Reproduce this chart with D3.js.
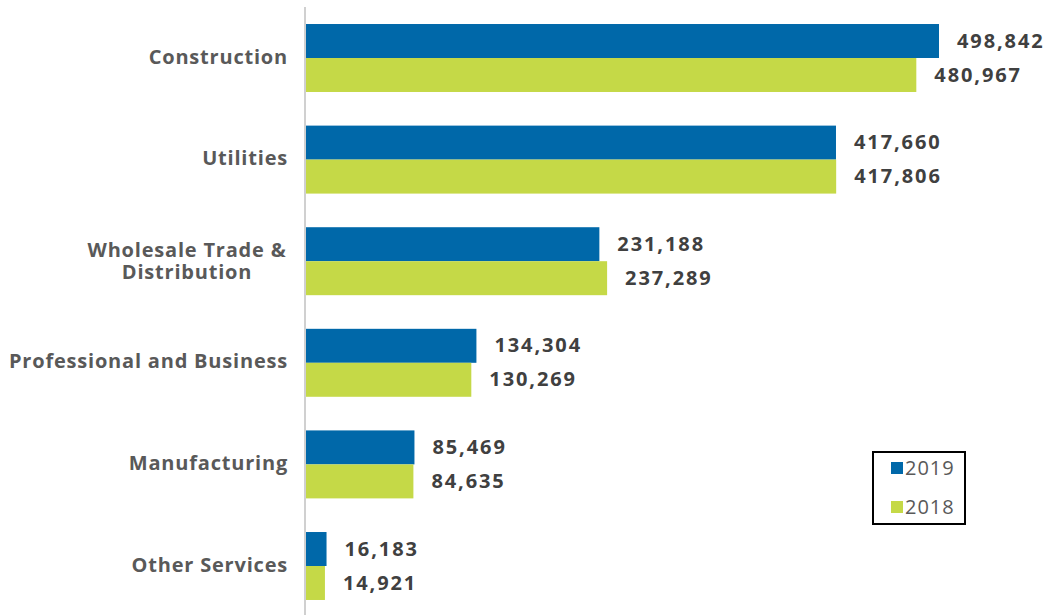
<!DOCTYPE html>
<html><head><meta charset="utf-8">
<script src="https://cdn.jsdelivr.net/npm/d3@7"></script>
<style>body{margin:0;background:#fff}svg{display:block}</style>
</head><body>
<svg id="c" width="1048" height="615"></svg>
<script>
const categories = ["Construction","Utilities","Wholesale Trade & Distribution","Professional and Business","Manufacturing","Other Services"];
const catLines = [["Construction"],["Utilities"],["Wholesale Trade &","Distribution"],["Professional and Business"],["Manufacturing"],["Other Services"]];
const series = ["2019","2018"];
const values2019 = [498842,417660,231188,134304,85469,16183];
const values2018 = [480967,417806,237289,130269,84635,14921];
const colors = ["#0068a9","#c5d947"];

const svg = d3.select("#c");
const font = "'Open Sans', sans-serif";
const x = d3.scaleLinear().domain([0, 498842]).range([306, 939]);
const y = d3.scaleBand().domain(categories).range([7.2, 616.8]).paddingInner(0.331).paddingOuter(0.1655);
const ys = d3.scaleBand().domain(series).range([0, y.bandwidth()]);
const fmt = d3.format(",");

const data = categories.map((c,i)=>({c, v:[values2019[i], values2018[i]]}));

const g = svg.append("g");
data.forEach(d=>{
  series.forEach((s,j)=>{
    g.append("rect").attr("x", x(0)).attr("y", y(d.c)+ys(s))
      .attr("width", x(d.v[j])-x(0)).attr("height", ys.bandwidth()).attr("fill", colors[j]);
    g.append("text").attr("x", x(d.v[j])+18).attr("y", y(d.c)+ys(s)+ys.bandwidth()/2)
      .attr("dy","0.33em").attr("font-family",font).attr("font-weight",700).attr("font-size",20)
      .attr("letter-spacing",1.9).attr("fill","#404040").text(fmt(d.v[j]));
  });
});

// axis line
svg.append("line").attr("x1",305).attr("x2",305).attr("y1",7).attr("y2",615)
  .attr("stroke","#d0d0d0").attr("stroke-width",2);

// category labels
categories.forEach((c,i)=>{
  const lines = catLines[i];
  const cy = y(c)+y.bandwidth()/2;
  const t = svg.append("text").attr("text-anchor","middle").attr("font-family",font)
    .attr("font-weight",700).attr("font-size",20).attr("letter-spacing",0.8).attr("fill","#595959");
  if(lines.length===1){
    t.attr("text-anchor","end").attr("x",288).attr("y",cy-1).attr("dy","0.33em").text(lines[0]);
  } else {
    lines.forEach((l,k)=>{
      t.append("tspan").attr("x", 187).attr("y", cy + (k-(lines.length-1)/2)*22).attr("dy","0.33em").text(l);
    });
  }
});

// legend
const lg = svg.append("g");
lg.append("rect").attr("x",873).attr("y",452).attr("width",92).attr("height",72)
  .attr("fill","#fff").attr("stroke","#000").attr("stroke-width",2);
series.forEach((s,j)=>{
  const yy = 468 + j*39;
  lg.append("rect").attr("x",891).attr("y",yy-6).attr("width",12).attr("height",12).attr("fill",colors[j]);
  lg.append("text").attr("x",905).attr("y",yy).attr("dy","0.35em").attr("font-family",font)
    .attr("font-size",20).attr("letter-spacing",1).attr("fill","#595959").text(s);
});
</script>
</body></html>
